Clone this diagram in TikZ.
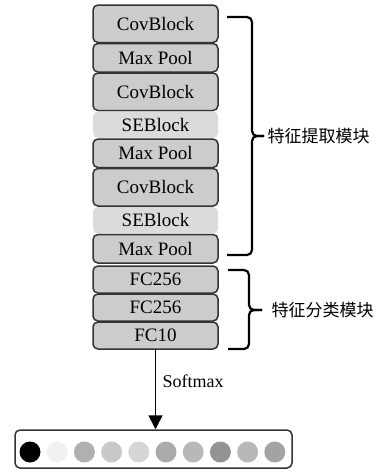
\documentclass[tikz,border=0pt]{standalone}
\usepackage{fontspec}
\setmainfont{Liberation Serif}
\newfontfamily\cjk{Noto Sans CJK SC}
\usepackage{tikz}
\usetikzlibrary{shapes, arrows.meta, positioning, calc}

\begin{document}
\begin{tikzpicture}[
                x=1pt, y=1pt,
                node distance=1pt,
                box/.style={draw=black!80, line width=1.5pt, rounded corners=5pt, fill=gray!40, minimum width=125pt, align=center, inner sep=0pt, outer sep=0pt, font=\fontsize{19}{21}\selectfont},
                covbox/.style={box, minimum height=37.5pt},
                poolbox/.style={box, minimum height=28.5pt},
                sebox/.style={box, draw=none, fill=gray!28, minimum height=26.5pt},
                fcbox/.style={box, minimum height=27pt},
                bracket/.style={line width=2.2pt, rounded corners=5pt},
                dot/.style={circle, minimum size=21pt, inner sep=0pt}
            ]
                \useasboundingbox (0,0) rectangle (387,-474);

                % feature extraction
                \node[covbox] (c1) at (155.5,-23.75) {CovBlock};
                \node[poolbox, below=of c1] (m1) {Max Pool};
                \node[covbox, below=of m1] (c2) {CovBlock};
                \node[sebox, below=of c2] (s1) {SEBlock};
                \node[poolbox, below=of s1] (m2) {Max Pool};
                \node[covbox, below=of m2] (c3) {CovBlock};
                \node[sebox, below=of c3] (s2) {SEBlock};
                \node[poolbox, below=of s2] (m3) {Max Pool};

                % classification
                \node[fcbox, below=3pt of m3] (f1) {FC256};
                \node[fcbox, below=of f1] (f2) {FC256};
                \node[fcbox, below=of f2] (f3) {FC10};

                % output
                \node[draw=black!80, line width=1.5pt, rounded corners=5pt, fill=white, minimum width=277pt, minimum height=38pt] (out) at (153.5,-449) {};
                \foreach \col [count=\i from 0] in {black, gray!12, gray!62, gray!42, gray!32, gray!66, gray!56, gray!85, gray!56, gray!72}
                    \node[dot, fill=\col] (d\i) at (30+27.2*\i,-452) {};

                \draw[line width=1.6pt, -{Triangle[length=14pt, width=14pt]}] (f3.south) -- (f3.south |- out.north)
                    node[pos=0.4, right=3pt, font=\fontsize{18}{20}\selectfont] (sm) {Softmax};

                % braces
                \coordinate (b1top) at (227,-17);
                \coordinate (b1bot) at (227,-255);
                \coordinate (b1tip) at (264,-136);
                \draw[bracket] (b1top) -| ($(b1tip)+(-12,0)$) -- (b1tip);
                \draw[bracket] (b1bot) -| ($(b1tip)+(-12,0)$) -- (b1tip);
                \node[anchor=west, font=\cjk\fontsize{17}{19}\selectfont] (feat) at (b1tip) {特征提取模块};

                \coordinate (b2top) at (228,-270);
                \coordinate (b2bot) at (228,-349);
                \coordinate (b2tip) at (262,-310);
                \draw[bracket] (b2top) -| ($(b2tip)+(-13,0)$) -- (b2tip);
                \draw[bracket] (b2bot) -| ($(b2tip)+(-13,0)$) -- (b2tip);
                \node[anchor=west, font=\cjk\fontsize{17}{19}\selectfont] (cls) at ([xshift=6pt]b2tip) {特征分类模块};
            \end{tikzpicture}
\end{document}
